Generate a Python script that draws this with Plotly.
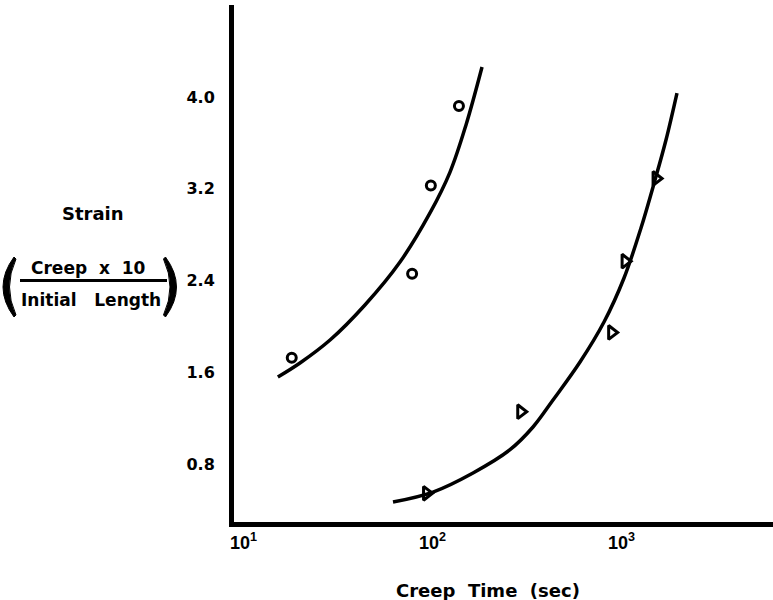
import plotly.graph_objects as go

# Measured creep data (time in seconds, strain)
circle_time = [18, 78, 98, 138]
circle_strain = [1.73, 2.46, 3.23, 3.92]

triangle_time = [93, 293, 887, 1045, 1524]
triangle_strain = [0.55, 1.26, 1.95, 2.57, 3.29]

# Hand-faired curves through each data set
curve_a_time = [15.2, 19.9, 28.7, 43.9, 67.3, 97.0, 123.8, 150.4, 182.8]
curve_a_strain = [1.562, 1.684, 1.884, 2.189, 2.563, 2.990, 3.346, 3.756, 4.260]

curve_b_time = [61.8, 100.6, 163.8, 256.1, 340.2, 434.1, 603.2, 808,
                1031, 1268, 1504, 1719, 1966]
curve_b_strain = [0.474, 0.561, 0.727, 0.927, 1.127, 1.362, 1.693, 2.041,
                  2.424, 2.859, 3.277, 3.625, 4.034]

x_tick_vals = [10, 100, 1000]
x_tick_text = ["<b>10<sup>1</sup></b>", "<b>10<sup>2</sup></b>", "<b>10<sup>3</sup></b>"]
y_tick_vals = [0.8, 1.6, 2.4, 3.2, 4.0]
y_tick_text = ["<b>0.8</b>", "<b>1.6</b>", "<b>2.4</b>", "<b>3.2</b>", "<b>4.0</b>"]

W, H = 773, 600
L, R, T, B = 234, 0, 5, 78
PW, PH = W - L - R, H - T - B


def px(x):
    return (x - L) / PW


def py(y):
    return (H - B - y) / PH


TITLE_FAMILY = "DejaVu Sans"

fig = go.Figure()

for t, s in [(curve_a_time, curve_a_strain), (curve_b_time, curve_b_strain)]:
    fig.add_trace(go.Scatter(
        x=t, y=s, mode="lines",
        line=dict(color="black", width=3.5, shape="spline", smoothing=1.0),
        showlegend=False, hoverinfo="skip"))

fig.add_trace(go.Scatter(
    x=circle_time, y=circle_strain, mode="markers",
    marker=dict(symbol="circle-open", size=9, color="black",
                line=dict(width=3, color="black")),
    showlegend=False))
fig.add_trace(go.Scatter(
    x=triangle_time, y=triangle_strain, mode="markers",
    marker=dict(symbol="triangle-right-open", size=12, color="black",
                line=dict(width=3, color="black")),
    showlegend=False))

fig.update_layout(
    xaxis=dict(
        type="log", range=[0.9497, 3.8016],
        showline=True, linewidth=5, linecolor="black",
        showgrid=False, zeroline=False, ticks="",
        tickmode="array", tickvals=x_tick_vals, ticktext=x_tick_text,
        tickfont=dict(family="Liberation Sans", size=18, color="black"),
    ),
    yaxis=dict(
        range=[0.3003, 4.80],
        showline=True, linewidth=5, linecolor="black",
        showgrid=False, zeroline=False, ticks="",
        tickmode="array", tickvals=y_tick_vals, ticktext=y_tick_text,
        tickfont=dict(family="DejaVu Sans", size=16, color="black"),
        ticklabelstandoff=11,
    ),
)

annotations = [
    ("<b>Strain</b>", 93, 213, 18),
    ("<b>Creep&nbsp;&nbsp;x&nbsp;&nbsp;10</b>", 88, 268, 17),
    ("<b>Initial&nbsp;&nbsp;&nbsp;Length</b>", 91, 300, 17),
    ("<b>Creep&nbsp;&nbsp;Time&nbsp;&nbsp;(sec)</b>", 488, 590, 18),
]
ann_objs = [
    dict(xref="paper", yref="paper", showarrow=False,
         xanchor="center", yanchor="middle",
         text=txt, x=px(x), y=py(y),
         font=dict(family=TITLE_FAMILY, size=size, color="black"))
    for txt, x, y, size in annotations
]


def path(cmds):
    out = []
    for cmd, pts in cmds:
        coords = " ".join(f"{px(x):.5f},{py(y):.5f}" for x, y in pts)
        out.append(f"{cmd} {coords}")
    return " ".join(out) + " Z"


left_paren = path([("M", [(14, 257)]), ("Q", [(-8, 287), (14, 317)]),
                   ("L", [(16, 315)]), ("Q", [(3, 287), (16, 259)])])
right_paren = path([("M", [(165.5, 257)]), ("Q", [(187.5, 287), (165.5, 317)]),
                    ("L", [(163.5, 315)]), ("Q", [(176.5, 287), (163.5, 259)])])

shapes = [
    dict(type="line", xref="paper", yref="paper",
         x0=px(20), x1=px(167), y0=py(280.5), y1=py(280.5),
         line=dict(color="black", width=3)),
    dict(type="path", xref="paper", yref="paper", path=left_paren,
         fillcolor="black", line=dict(color="black", width=1)),
    dict(type="path", xref="paper", yref="paper", path=right_paren,
         fillcolor="black", line=dict(color="black", width=1)),
]

fig.update_layout(
    width=W, height=H,
    font=dict(family="DejaVu Sans", size=16, color="black"),
    margin=dict(l=L, r=R, t=T, b=B, pad=0),
    paper_bgcolor="white", plot_bgcolor="white",
    annotations=ann_objs, shapes=shapes,
)

fig.write_html("out.html")
